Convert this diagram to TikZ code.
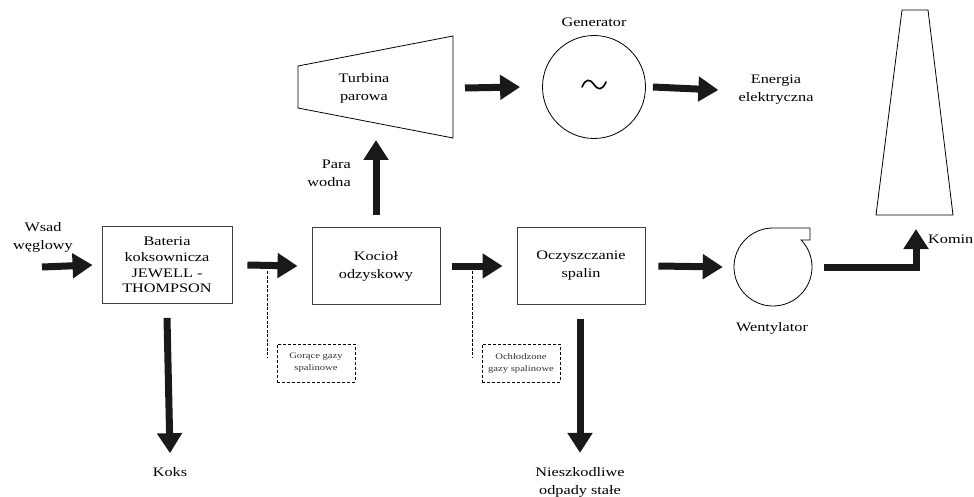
\documentclass[tikz,border=0pt]{standalone}
\usepackage{fontspec}
\setmainfont[FakeStretch=1.25]{Liberation Serif}
\usetikzlibrary{arrows.meta}
\begin{document}
\begin{tikzpicture}[x=1pt,y=-1pt,
  box/.style={draw=black!75, line width=0.9pt, inner sep=0pt},
  flow/.style={line width=7pt, -{Triangle[length=20pt,width=24pt]}, black!90},
  lbl/.style={font=\fontsize{13}{18}\selectfont, align=center, inner sep=0pt},
  small/.style={font=\fontsize{8.5}{12}\selectfont, align=center, inner sep=0pt, text=black!80},
  dbox/.style={draw, line width=0.8pt, dash pattern=on 3pt off 2pt, inner sep=0pt},
  dline/.style={line width=0.6pt, dash pattern=on 3pt off 1.5pt},
  outline/.style={draw, line width=0.8pt}
]
\useasboundingbox (0,0) rectangle (974,497);

% main boxes
\node[box, lbl, minimum width=130pt, minimum height=77pt,
      font=\fontsize{13}{15.7}\selectfont] (bat) at (167,265)
      {Bateria\\koksownicza\\JEWELL -\\THOMPSON};
\node[box, lbl, minimum width=128pt, minimum height=77pt] (koc) at (376,266) {Kocioł\\odzyskowy};
\node[box, lbl, minimum width=128pt, minimum height=77pt] (ocz) at (581,266) {Oczyszczanie\\spalin};

% turbine
\draw[outline] (298,66) -- (453,36) -- (453,138) -- (298,108) -- cycle;
\node[lbl] (turb) at (364,88) {Turbina\\parowa};
\coordinate (turbin) at (376,140);
\coordinate (turbout) at (465,88);

% generator
\node[circle, draw, line width=0.8pt, minimum size=103pt, inner sep=0pt] (gen) at (594,87) {};
\draw[line width=1.6pt, line cap=round] (582,87) .. controls (586,78) and (590,79) .. (594,84.5)
  .. controls (598,90) and (602,91) .. (606,82);
\node[lbl] (genl) at (594,22) {Generator};
\node[lbl] (en) at (776,90) {Energia\\elektryczna};

% fan
\node[circle, minimum size=78pt, inner sep=0pt] (fan) at (773,267) {};
\draw[outline] (773,228) arc[start angle=270, end angle=-44, radius=39] -- (810,240) -- (810,228) -- cycle;
\node[lbl] (fanl) at (772,328) {Wentylator};

% chimney
\draw[outline] (902,10) -- (928,10) -- (953,215) -- (876,215) -- cycle;
\node[lbl, anchor=west] (kom) at (928,239) {Komin};
\coordinate (komin) at (916,229);

% inputs / outputs
\node[lbl] (wsad) at (43,237) {Wsad\\węglowy};
\coordinate (in1) at (42,267);
\node[lbl, align=right, anchor=east] (para) at (351,173) {Para\\wodna};
\node[lbl] (koks) at (170,472) {Koks};
\node[lbl] (odp) at (580,482) {Nieszkodliwe\\odpady stałe};

% flows
\draw[flow] (in1) -- ([xshift=-9pt]bat.west);
\draw[flow] ([xshift=15pt]bat.east) -- ([xshift=-14pt]koc.west);
\draw[flow] ([xshift=12pt]koc.east) -- ([xshift=-14pt]ocz.west);
\draw[flow] ([xshift=13pt]ocz.east) -- ([xshift=-11pt]fan.west);
\draw[flow] ([yshift=12pt]koc.north) -- (turbin);
\draw[flow] (turbout) -- ([xshift=-22pt]gen.west);
\draw[flow] ([xshift=7pt]gen.east) -- ([xshift=-20pt]en.west);
\draw[flow] ([xshift=12pt]fan.east) -| (komin);
\draw[flow] ([yshift=-14pt]bat.south) -- ([yshift=14pt]koks.north);
\draw[flow] ([xshift=-1pt,yshift=-14pt]ocz.south) -- ([yshift=14pt]odp.north);

% dashed annotations
\node[dbox, small, minimum width=78pt, minimum height=38pt] (g1) at (316,363) {Gorące gazy\\spalinowe};
\node[dbox, small, minimum width=78pt, minimum height=38pt] (g2) at (521,363) {Ochłodzone\\gazy spalinowe};
\coordinate (d1a) at (267,271);
\coordinate (d1b) at (267,357);
\coordinate (d2a) at (472,271);
\coordinate (d2b) at (472,357);
\draw[dline] (d1a) -- (d1b);
\draw[dline] (d2a) -- (d2b);
\end{tikzpicture}
\end{document}
